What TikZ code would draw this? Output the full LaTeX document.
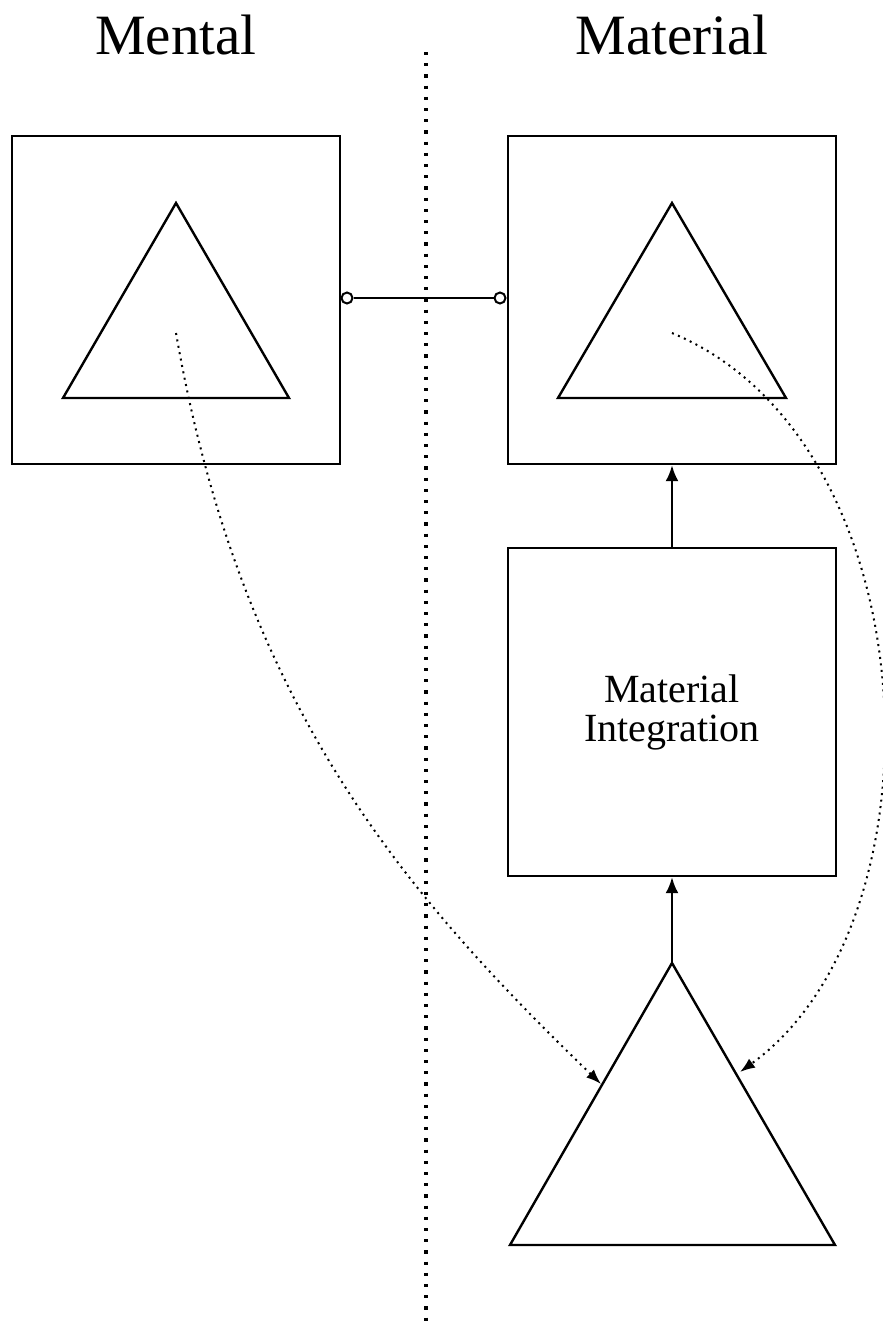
\documentclass[tikz,border=0pt]{standalone}
\usepackage{fontspec}
\setmainfont{Liberation Serif}
\usetikzlibrary{arrows.meta}
\begin{document}
\begin{tikzpicture}[x=1pt,y=-1pt,
  frame/.style={draw,line width=2.4pt,minimum width=328pt,minimum height=328pt,inner sep=0pt},
  tri/.style={draw,line width=2.4pt,line join=miter},
  heading/.style={font=\fontsize{57}{60}\selectfont,inner sep=0pt},
  flow/.style={line width=2.4pt,-{Latex[length=16pt,width=13pt]}},
  link/.style={draw,circle,line width=2pt,minimum size=11pt,inner sep=0pt,fill=white},
  trace/.style={line width=2pt,dash pattern=on 2pt off 4.5pt,-{Latex[length=15pt,width=11pt]}}]
  \useasboundingbox (0,0) rectangle (883,1331);

  % divider between the two realms
  \draw[line width=3.2pt,dash pattern=on 3.2pt off 8pt] (426,52) -- (426,1322);

  % headings
  \node[heading,anchor=base] (hm) at (176,54) {Mental};
  \node[heading,anchor=base] (hr) at (672,54) {Material};

  % upper boxes
  \node[frame] (bm) at (176,300) {};
  \node[frame] (br) at (672,300) {};
  \draw[tri] (176,203) -- (289,398) -- (63,398) -- cycle;
  \draw[tri] (672,203) -- (786,398) -- (558,398) -- cycle;
  \coordinate (cm) at (176,333);
  \coordinate (cr) at (672,333);

  % link between the boxes
  \node[link] (lm) at (347,298) {};
  \node[link] (lr) at (500,298) {};
  \draw[line width=2pt] (lm) -- (lr);

  % integration box
  \node[frame,font=\fontsize{40}{39}\selectfont,align=center] (mi) at (672,712)
    {Material\\Integration};

  % lower triangle
  \coordinate (ta) at (672,963);
  \draw[tri] (ta) -- (835,1245) -- (510,1245) -- cycle;
  \coordinate (tl) at (601,1084);
  \coordinate (tr) at (740,1072);

  % flows
  \draw[flow] (mi.north) -- (br.south);
  \draw[flow] (ta) -- (mi.south);

  % dotted traces
  \draw[trace] (cm) .. controls (240,700) and (400,890) .. (tl);
  \draw[trace] (cr) .. controls (930,440) and (950,920) .. (tr);
\end{tikzpicture}
\end{document}
